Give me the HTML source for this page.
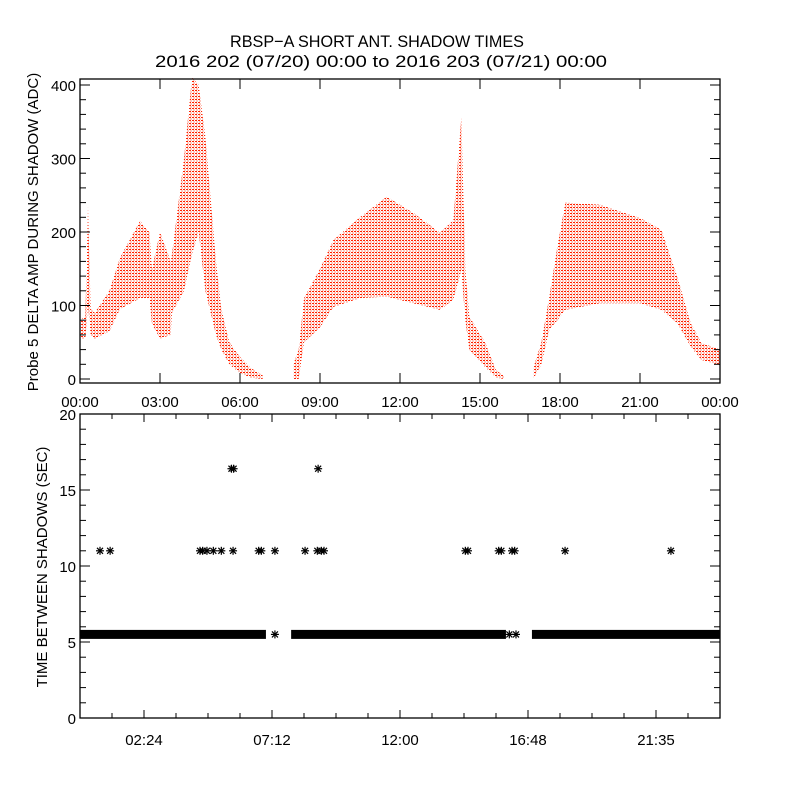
<!DOCTYPE html>
<html><head><meta charset="utf-8"><style>
html,body{margin:0;padding:0;background:#fff}
svg{display:block;font-family:"Liberation Sans",sans-serif}
</style></head><body>
<svg id="chart" width="800" height="800" viewBox="0 0 800 800" xmlns="http://www.w3.org/2000/svg">
<defs>
<pattern id="dots" width="3" height="3" patternUnits="userSpaceOnUse">
<rect x="0" y="0" width="2" height="1" fill="#ff2200"/>
<rect x="1.5" y="1.5" width="1" height="1" fill="#ff2200"/>
</pattern>
<clipPath id="botClip"><rect x="80" y="414" width="640" height="304"/></clipPath>
</defs>
<rect width="800" height="800" fill="#fff"/>
<text x="377" y="47" font-size="17" text-anchor="middle" textLength="294" lengthAdjust="spacingAndGlyphs">RBSP−A SHORT ANT. SHADOW TIMES</text>
<text x="381" y="67" font-size="17" text-anchor="middle" textLength="452" lengthAdjust="spacingAndGlyphs">2016 202 (07/20) 00:00 to 2016 203 (07/21) 00:00</text>
<g id="topPanel"></g>
<g id="botPanel"></g>
</svg>
<script>
// ---- top panel data (hours, ADC envelope low/high) ----
const seg1Hours = [0,0.2,0.3,0.4,0.55,1.1,1.5,2.25,2.6,2.7,3.0,3.4,3.45,3.9,4.2,4.45,4.7,5.1,5.3,5.6,6.0,6.4,6.85];
const seg1Low   = [55,55,100,60,55,65,95,110,110,75,55,60,90,120,170,200,120,60,40,20,8,2,0];
const seg1High  = [80,85,235,95,90,120,165,215,200,150,200,160,170,300,410,400,330,160,95,50,30,15,5];
const seg2Hours = [8.0,8.2,8.4,9.0,9.5,10.5,11.5,12.5,13.5,14.0,14.3,14.45,14.6,15.2,15.6,15.9];
const seg2Low   = [0,0,50,70,98,110,112,103,94,108,148,80,40,16,2,0];
const seg2High  = [20,40,110,150,189,220,248,226,199,216,356,150,85,49,12,4];
const seg3Hours = [17.0,17.3,17.6,17.9,18.2,19.5,21.0,21.8,22.4,22.9,23.3,24.0];
const seg3Low   = [0,20,67,80,94,103,103,94,76,44,26,19];
const seg3High  = [15,50,112,180,240,237,219,203,139,76,49,40];
const topYTicks = [0,100,200,300,400];
const topXLabels = ["00:00","03:00","06:00","09:00","12:00","15:00","18:00","21:00","00:00"];

// ---- bottom panel data ----
const runStart = [0,8.03,17.06];
const runEnd   = [6.86,15.86,24];
const runValue = [5.5,5.5,5.5];
const starHours  = [7.31,16.1,16.35,0.75,1.13,4.5,4.6,4.76,5.0,5.3,5.74,6.7,6.8,7.31,8.44,8.9,9.05,9.15,14.45,14.55,15.7,15.8,16.2,16.3,18.19,22.16,5.68,5.76,8.93];
const starValues = [5.5,5.5,5.5,11,11,11,11,11,11,11,11,11,11,11,11,11,11,11,11,11,11,11,11,11,11,11,16.4,16.4,16.4];
const botYTicks = [0,5,10,15,20];
const botXLabels = ["02:24","07:12","12:00","16:48","21:35"];

const NS="http://www.w3.org/2000/svg";
function mk(p,t,a){const e=document.createElementNS(NS,t);for(const k in a)e.setAttribute(k,a[k]);p.appendChild(e);return e;}
const L=80,R=720;
const xs=h=>L+(R-L)*h/24;
const yTop=v=>379-v*0.735;
const yBot=v=>718-v*15.2;

const topG=document.getElementById('topPanel');
[[seg1Hours,seg1Low,seg1High],[seg2Hours,seg2Low,seg2High],[seg3Hours,seg3Low,seg3High]].forEach((s,i)=>{
  let pts=s[0].map((h,j)=>xs(h)+','+yTop(s[2][j]));
  for(let j=s[0].length-1;j>=0;j--)pts.push(xs(s[0][j])+','+yTop(s[1][j]));
  const p=mk(topG,'polygon',{points:pts.join(' '),fill:'url(#dots)'});
  
  
});
const f1=mk(topG,'rect',{x:80,y:79,width:640,height:304,fill:'none',stroke:'#000','stroke-width':1.3});


for(let v=0;v<=400;v+=20){
  const y=yTop(v),len=(v%100===0)?10:6;
  mk(topG,'line',{x1:80,x2:80+len,y1:y,y2:y,stroke:'#000'});
  mk(topG,'line',{x1:720,x2:720-len,y1:y,y2:y,stroke:'#000'});
}
topYTicks.forEach(v=>{
  const t=mk(topG,'text',{x:76,y:yTop(v)+6,'font-size':15,'text-anchor':'end'});t.textContent=v;
  
  
});
topXLabels.forEach((s,i)=>{
  const x=xs(i*3);
  mk(topG,'line',{x1:x,x2:x,y1:383,y2:373,stroke:'#000'});
  mk(topG,'line',{x1:x,x2:x,y1:79,y2:89,stroke:'#000'});
  const t=mk(topG,'text',{x:x,y:407,'font-size':15,'text-anchor':'middle'});t.textContent=s;
  
  
});
const yl1=mk(topG,'text',{x:0,y:0,'font-size':15,'text-anchor':'middle',transform:'translate(38,232) rotate(-90)'});
yl1.textContent='Probe 5 DELTA AMP DURING SHADOW (ADC)';



const botG=document.getElementById('botPanel');
const botData=mk(botG,'g',{'clip-path':'url(#botClip)'});


runStart.forEach((s,i)=>{
  const r=mk(botData,'rect',{x:xs(s)-3,y:yBot(runValue[i])-4.5,width:xs(runEnd[i])-xs(s)+6,height:9,fill:'#000'});
  
  
});
starHours.forEach((h,i)=>{
  const x=xs(h),y=yBot(starValues[i]);
  const g=mk(botData,'g',{stroke:'#000','stroke-width':1.2});
  
  
  mk(g,'line',{x1:x-4,x2:x+4,y1:y,y2:y});
  mk(g,'line',{x1:x,x2:x,y1:y-4,y2:y+4});
  mk(g,'line',{x1:x-3,x2:x+3,y1:y-3,y2:y+3});
  mk(g,'line',{x1:x-3,x2:x+3,y1:y+3,y2:y-3});
});
const f2=mk(botG,'rect',{x:80,y:414,width:640,height:304,fill:'none',stroke:'#000','stroke-width':1.3});


for(let v=0;v<=20;v++){
  const y=yBot(v),len=(v%5===0)?10:6;
  mk(botG,'line',{x1:80,x2:80+len,y1:y,y2:y,stroke:'#000'});
  mk(botG,'line',{x1:720,x2:720-len,y1:y,y2:y,stroke:'#000'});
}
botYTicks.forEach(v=>{
  const t=mk(botG,'text',{x:76,y:yBot(v)+6,'font-size':15,'text-anchor':'end'});t.textContent=v;
  
  
});
for(let k=1;k<20;k++){
  const x=xs(k*1.2),len=(k%4===2)?8:5;
  mk(botG,'line',{x1:x,x2:x,y1:718,y2:718-len,stroke:'#000'});
  mk(botG,'line',{x1:x,x2:x,y1:414,y2:414+len,stroke:'#000'});
}
botXLabels.forEach((s,i)=>{
  const t=mk(botG,'text',{x:xs((i*4+2)*1.2),y:745,'font-size':15,'text-anchor':'middle'});t.textContent=s;
  
  
});
const yl2=mk(botG,'text',{x:0,y:0,'font-size':15,'text-anchor':'middle',transform:'translate(47,567) rotate(-90)'});
yl2.textContent='TIME BETWEEN SHADOWS (SEC)';


</script>
</body></html>
